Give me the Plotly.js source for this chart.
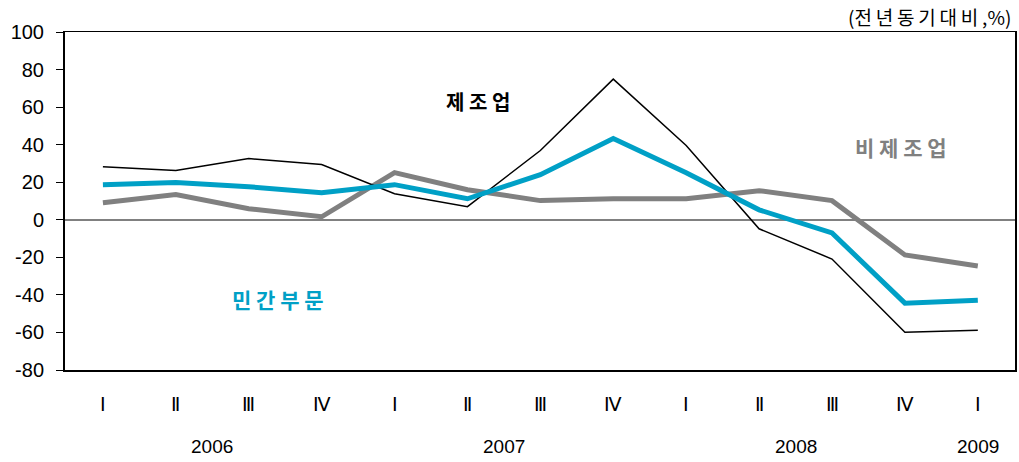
<!DOCTYPE html>
<html><head><meta charset="utf-8">
<script src="https://cdn.plot.ly/plotly-3.0.1.min.js"></script>
<style>html,body{margin:0;padding:0;background:#fff}#c{width:1019px;height:462px}</style>
</head><body><div id="c"></div>
<script>
const quarters = ['Ⅰ','Ⅱ','Ⅲ','Ⅳ','Ⅰ','Ⅱ','Ⅲ','Ⅳ','Ⅰ','Ⅱ','Ⅲ','Ⅳ','Ⅰ'];
const years = ['2006','2007','2008','2009'];
const yearPos = [1.5, 5.5, 9.5, 12];
const yTicks = [-80, -60, -40, -20, 0, 20, 40, 60, 80, 100];
const yTickText = ['-80', '-60', '-40', '-20', '0', '20', '40', '60', '80', '100'];
const manufacturing = [28.3, 26.2, 32.6, 29.4, 13.9, 7.0, 36.9, 74.9, 39.6, -4.8, -20.9, -59.9, -58.8];
const privateSector = [18.7, 19.8, 17.6, 14.4, 18.7, 11.2, 24.0, 43.3, 25.1, 5.3, -7.0, -44.4, -42.8];
const nonManufacturing = [9.1, 13.4, 5.9, 1.6, 25.1, 16.0, 10.2, 11.2, 11.2, 15.5, 10.2, -18.7, -24.6];
const xs = quarters.map((_, i) => i);

const font = 'Liberation Sans, Arial, sans-serif';
const kfont = 'Noto Sans CJK KR, sans-serif';

const traces = [
  {x: xs, y: nonManufacturing, mode: 'lines', line: {color: '#808080', width: 5}, name: '비제조업'},
  {x: xs, y: manufacturing, mode: 'lines', line: {color: '#000000', width: 1.5}, name: '제조업'},
  {x: xs, y: privateSector, mode: 'lines', line: {color: '#00A0C6', width: 5}, name: '민간부문'}
];

const annotations = years.map((y, i) => ({
  x: yearPos[i], xref: 'x', y: 0, yref: 'paper', yshift: -89, text: y, showarrow: false,
  font: {family: font, size: 19, color: '#000'}
}));
annotations.push(
  {x: 5.15, y: 63, xref: 'x', yref: 'y', text: '<b>제 조 업</b>', showarrow: false, font: {family: kfont, size: 20, color: '#000'}},
  {x: 10.95, y: 39, xref: 'x', yref: 'y', text: '<b>비 제 조 업</b>', showarrow: false, font: {family: kfont, size: 21, color: '#808080'}},
  {x: 2.4, y: -42, xref: 'x', yref: 'y', text: '<b>민 간 부 문</b>', showarrow: false, font: {family: kfont, size: 21, color: '#00A0C6'}},
  {x: 1, y: 1, xref: 'paper', yref: 'paper', xanchor: 'right', yanchor: 'bottom', xshift: -2, yshift: 0, text: '(전\u2009년\u2009동\u2009기\u2009대\u2009비\u2009,%)', showarrow: false, font: {family: kfont, size: 19, color: '#000'}}
);

const layout = {
  width: 1019, height: 462,
  margin: {l: 65, r: 4, t: 32, b: 92},
  paper_bgcolor: '#fff', plot_bgcolor: '#fff',
  showlegend: false,
  xaxis: {
    range: [-0.52, 12.51], tickmode: 'array', tickvals: xs, ticktext: quarters,
    showgrid: false, zeroline: false, showline: true, linecolor: '#000', linewidth: 2, mirror: false,
    ticks: '', tickfont: {family: font, size: 19, color: '#000'}, ticklabelstandoff: 16
  },
  xaxis2: {overlaying: 'x', side: 'top', range: [-0.52, 12.51], showline: true, linecolor: '#000', linewidth: 1.5, showticklabels: false, showgrid: false, zeroline: false, ticks: ''},
  yaxis: {
    range: [-80, 100], tickmode: 'array', tickvals: yTicks, ticktext: yTickText,
    showgrid: false, zeroline: true, zerolinecolor: '#808080', zerolinewidth: 2,
    showline: true, linecolor: '#000', linewidth: 2, ticks: 'outside', ticklen: 7, tickcolor: '#000', tickwidth: 1,
    tickfont: {family: font, size: 20, color: '#000'}, ticklabelstandoff: 8
  },
  yaxis2: {overlaying: 'y', side: 'right', range: [-80, 100], showline: true, linecolor: '#000', linewidth: 1.5, showticklabels: false, showgrid: false, zeroline: false, ticks: ''},
  annotations: annotations
};
traces.push({x: [0], y: [0], xaxis: 'x2', yaxis: 'y2', mode: 'markers', marker: {opacity: 0}, hoverinfo: 'skip'});
Plotly.newPlot('c', traces, layout, {displayModeBar: false, staticPlot: true});
</script>
</body></html>
